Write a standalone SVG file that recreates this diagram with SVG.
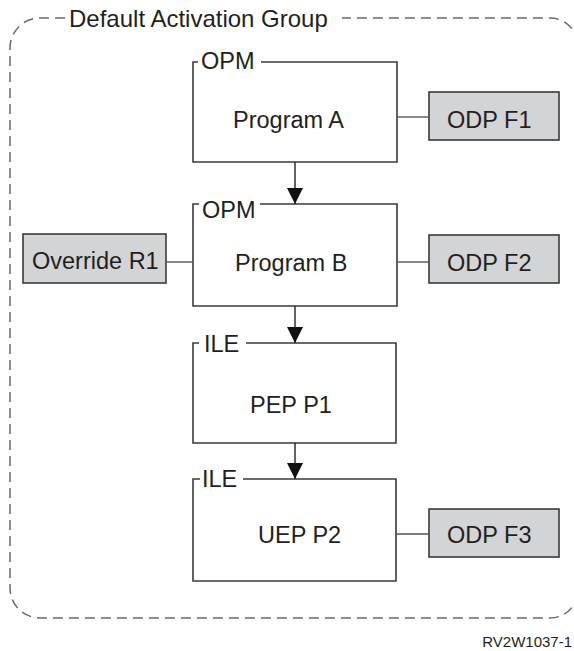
<svg xmlns="http://www.w3.org/2000/svg" width="574" height="651" viewBox="0 0 574 651">
<style>
text{font-family:"Liberation Sans",Arial,sans-serif;fill:#231f20}
.t{font-size:23.5px}
.box{fill:none;stroke:#3a3a3a;stroke-width:1.6}
.gray{fill:#d3d4d6;stroke:#3a3a3a;stroke-width:1.6}
.line{stroke:#555;stroke-width:1.4;fill:none}
.arrow{stroke:#222;stroke-width:1.4;fill:none;marker-end:url(#ah)}
.dash{fill:none;stroke:#6a6a6a;stroke-width:1.5;stroke-dasharray:10 6}
</style>
<defs>
<marker id="ah" markerUnits="userSpaceOnUse" markerWidth="16" markerHeight="16" refX="16" refY="8" orient="auto">
<path d="M0,0 L16,8 L0,16 Z" fill="#111"/>
</marker>
</defs>
<rect width="574" height="651" fill="#fff"/>
<g id="group">
<path class="dash" d="M65,18 H40 A30,30 0 0 0 10,48 V588 A30,30 0 0 0 40,618 H550 A28,28 0 0 0 578,590 V46 A28,28 0 0 0 550,18 H342"/>
<text x="69" y="27" font-size="24">Default Activation Group</text>
</g>
<g id="programA">
<path class="box" d="M198,62 H193 V162 H397 V62 H261"/>
<text class="t" x="201" y="69">OPM</text>
<text class="t" x="233" y="128">Program A</text>
</g>
<g id="odpF1">
<rect class="gray" x="429" y="92" width="130" height="48"/>
<text class="t" x="447" y="128">ODP F1</text>
</g>
<g id="programB">
<path class="box" d="M199,204 H193 V306 H397 V204 H260"/>
<text class="t" x="202" y="218">OPM</text>
<text class="t" x="235" y="271">Program B</text>
</g>
<g id="overrideR1">
<rect class="gray" x="23" y="234" width="143" height="49"/>
<text class="t" x="32" y="269">Override R1</text>
</g>
<g id="odpF2">
<rect class="gray" x="429" y="235" width="130" height="48"/>
<text class="t" x="447" y="271">ODP F2</text>
</g>
<g id="pepP1">
<path class="box" d="M199,343 H193 V443 H396 V343 H246"/>
<text class="t" x="204" y="352">ILE</text>
<text class="t" x="250" y="413">PEP P1</text>
</g>
<g id="uepP2">
<path class="box" d="M200,479 H193 V581 H396 V479 H243"/>
<text class="t" x="202" y="487">ILE</text>
<text class="t" x="258" y="543">UEP P2</text>
</g>
<g id="odpF3">
<rect class="gray" x="429" y="509" width="130" height="48"/>
<text class="t" x="447" y="543">ODP F3</text>
</g>
<g id="connectors">
<line class="line" x1="397" y1="117" x2="429" y2="117"/>
<line class="line" x1="166" y1="262" x2="193" y2="262"/>
<line class="line" x1="397" y1="262" x2="429" y2="262"/>
<line class="line" x1="396" y1="534" x2="429" y2="534"/>
<line class="arrow" x1="295" y1="162" x2="295" y2="204"/>
<line class="arrow" x1="295" y1="306" x2="295" y2="343"/>
<line class="arrow" x1="295" y1="443" x2="295" y2="479"/>
</g>
<text x="572" y="647" font-size="15" text-anchor="end">RV2W1037-1</text>
</svg>
